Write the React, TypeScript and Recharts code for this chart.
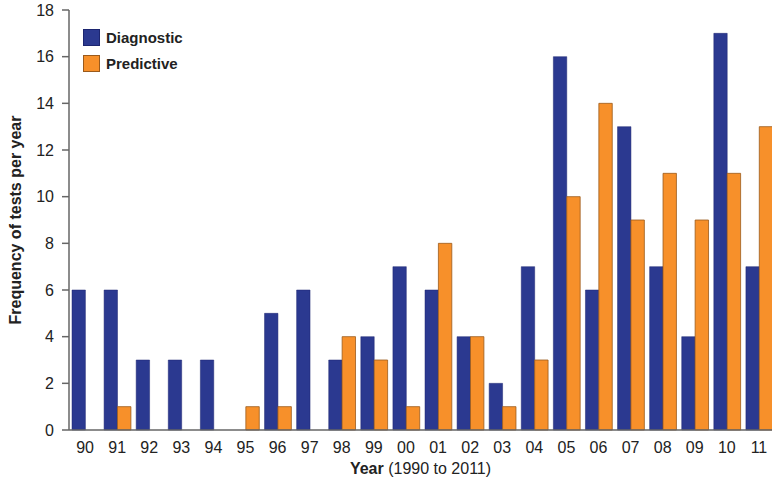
import { BarChart, Bar, XAxis, YAxis } from 'recharts';

const years = ['90', '91', '92', '93', '94', '95', '96', '97', '98', '99', '00', '01', '02', '03', '04', '05', '06', '07', '08', '09', '10', '11'];
const diagnostic = [6, 6, 3, 3, 3, 0, 5, 6, 3, 4, 7, 6, 4, 2, 7, 16, 6, 13, 7, 4, 17, 7];
const predictive = [0, 1, 0, 0, 0, 1, 1, 0, 4, 3, 1, 8, 4, 1, 3, 10, 14, 9, 11, 9, 11, 13];
const yTicks = [0, 2, 4, 6, 8, 10, 12, 14, 16, 18];

const BLUE = '#2B3990';
const ORANGE = '#F7902A';
const FONT = '"Liberation Sans", Arial, sans-serif';

const chartData = years.map((year, i) => ({
  year,
  diagnostic: diagnostic[i],
  predictive: predictive[i],
}));

const legendItems = [
  { name: 'Diagnostic', color: BLUE, border: '#1c2570' },
  { name: 'Predictive', color: ORANGE, border: '#9a5a1c' },
];

const XLabel = ({ viewBox }: any) => {
  // centred on the visible part of the axis (right end is cut by the frame)
  const cx = viewBox.x + (772 - viewBox.x) / 2;
  return (
    <text x={cx} y={viewBox.y + 44} textAnchor="middle" fontFamily={FONT} fontSize={16} fill="#222">
      <tspan fontWeight={700}>Year</tspan>
      <tspan> (1990 to 2011)</tspan>
    </text>
  );
};

export default function App() {
  return (
    <div style={{ position: 'absolute', left: 0, top: 0, width: 772, height: 484, background: '#fff', overflow: 'hidden' }}>
      <BarChart
        width={775}
        height={484}
        data={chartData}
        margin={{ top: 10, right: 0, bottom: 24, left: 0 }}
        barGap={0}
        barCategoryGap={2.6}
      >
        <XAxis
          dataKey="year"
          tickLine={false}
          axisLine={{ stroke: '#666', strokeWidth: 1.5 }}
          tick={{ fontFamily: FONT, fontSize: 16, fill: '#222' }}
          tickMargin={6}
          interval={0}
          label={<XLabel />}
        />
        <YAxis
          width={69}
          domain={[0, 18]}
          ticks={yTicks}
          tickSize={7}
          tickMargin={8}
          axisLine={{ stroke: '#666', strokeWidth: 1.5 }}
          tickLine={{ stroke: '#666', strokeWidth: 1.5 }}
          tick={{ fontFamily: FONT, fontSize: 16, fill: '#222' }}
          label={{
            value: 'Frequency of tests per year',
            angle: -90,
            position: 'insideLeft',
            offset: 15,
            style: { textAnchor: 'middle', fontFamily: FONT, fontSize: 16, fontWeight: 700, fill: '#222' },
          }}
        />
        <Bar dataKey="diagnostic" name="Diagnostic" fill={BLUE} stroke="#1c2570" strokeWidth={0.5} barSize={13.4} isAnimationActive={false} />
        <Bar dataKey="predictive" name="Predictive" fill={ORANGE} stroke="#9a5a1c" strokeWidth={0.8} barSize={13.4} isAnimationActive={false} />
      </BarChart>
      <div style={{ position: 'absolute', left: 83, top: 24, fontFamily: FONT, fontWeight: 700, fontSize: 15, color: '#222' }}>
        {legendItems.map((item) => (
          <div key={item.name} style={{ display: 'flex', alignItems: 'center', height: 26 }}>
            <div style={{ width: 15, height: 15, background: item.color, border: `1px solid ${item.border}`, marginRight: 6 }} />
            <span>{item.name}</span>
          </div>
        ))}
      </div>
    </div>
  );
}
